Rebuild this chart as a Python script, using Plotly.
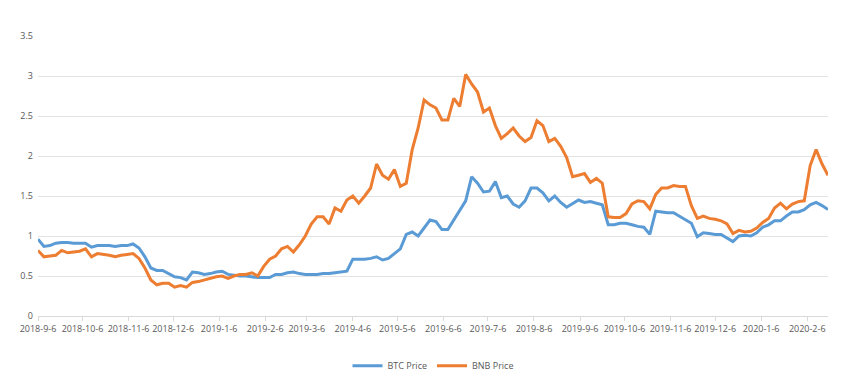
import pandas as pd
import plotly.graph_objects as go

start_date = "2018-09-06"
step = "4D"

btc_price = [
    0.96, 0.87, 0.88, 0.91, 0.92, 0.92, 0.91, 0.91, 0.91, 0.86,
    0.88, 0.88, 0.88, 0.87, 0.88, 0.88, 0.90, 0.85, 0.74, 0.60,
    0.57, 0.57, 0.53, 0.49, 0.48, 0.45, 0.55, 0.54, 0.52, 0.53,
    0.55, 0.56, 0.52, 0.51, 0.50, 0.50, 0.49, 0.48, 0.48, 0.48,
    0.52, 0.52, 0.54, 0.55, 0.53, 0.52, 0.52, 0.52, 0.53, 0.53,
    0.54, 0.55, 0.56, 0.71, 0.71, 0.71, 0.72, 0.74, 0.70, 0.72,
    0.78, 0.84, 1.02, 1.05, 1.00, 1.10, 1.20, 1.18, 1.08, 1.08,
    1.20, 1.32, 1.44, 1.74, 1.66, 1.55, 1.56, 1.68, 1.48, 1.50,
    1.40, 1.36, 1.44, 1.60, 1.60, 1.54, 1.44, 1.50, 1.42, 1.36,
    1.40, 1.45, 1.42, 1.43, 1.41, 1.39, 1.14, 1.14, 1.16, 1.16,
    1.14, 1.12, 1.11, 1.02, 1.31, 1.30, 1.29, 1.29, 1.25, 1.21,
    1.16, 0.99, 1.04, 1.03, 1.02, 1.02, 0.98, 0.93, 1.00, 1.01,
    1.00, 1.04, 1.11, 1.14, 1.19, 1.19, 1.25, 1.30, 1.30, 1.33,
    1.39, 1.42, 1.38, 1.33,
]

bnb_price = [
    0.82, 0.74, 0.75, 0.76, 0.82, 0.79, 0.80, 0.81, 0.84, 0.74,
    0.78, 0.77, 0.76, 0.74, 0.76, 0.77, 0.78, 0.72, 0.60, 0.45,
    0.39, 0.41, 0.41, 0.36, 0.38, 0.36, 0.42, 0.43, 0.45, 0.47,
    0.49, 0.50, 0.47, 0.50, 0.52, 0.52, 0.54, 0.50, 0.62, 0.71,
    0.75, 0.84, 0.87, 0.80, 0.89, 1.00, 1.15, 1.24, 1.24, 1.15,
    1.35, 1.31, 1.45, 1.50, 1.41, 1.50, 1.60, 1.90, 1.76, 1.71,
    1.83, 1.62, 1.66, 2.08, 2.35, 2.70, 2.64, 2.60, 2.45, 2.45,
    2.72, 2.62, 3.02, 2.90, 2.80, 2.55, 2.60, 2.38, 2.22, 2.28,
    2.35, 2.25, 2.18, 2.23, 2.44, 2.38, 2.18, 2.22, 2.12, 1.98,
    1.74, 1.76, 1.78, 1.67, 1.72, 1.66, 1.24, 1.23, 1.23, 1.28,
    1.40, 1.44, 1.43, 1.34, 1.52, 1.60, 1.60, 1.63, 1.62, 1.62,
    1.38, 1.22, 1.25, 1.22, 1.21, 1.19, 1.15, 1.03, 1.07, 1.05,
    1.06, 1.10, 1.17, 1.22, 1.35, 1.41, 1.34, 1.40, 1.43, 1.44,
    1.88, 2.08, 1.90, 1.76,
]

dates = pd.date_range(start_date, periods=len(btc_price), freq=step)

tick_dates = [
    "2018-09-06", "2018-10-06", "2018-11-06", "2018-12-06", "2019-01-06",
    "2019-02-06", "2019-03-06", "2019-04-06", "2019-05-06", "2019-06-06",
    "2019-07-06", "2019-08-06", "2019-09-06", "2019-10-06", "2019-11-06",
    "2019-12-06", "2020-01-06", "2020-02-06",
]
tick_labels = [
    "2018-9-6", "2018-10-6", "2018-11-6", "2018-12-6", "2019-1-6",
    "2019-2-6", "2019-3-6", "2019-4-6", "2019-5-6", "2019-6-6",
    "2019-7-6", "2019-8-6", "2019-9-6", "2019-10-6", "2019-11-6",
    "2019-12-6", "2020-1-6", "2020-2-6",
]
y_ticks = [0, 0.5, 1, 1.5, 2, 2.5, 3, 3.5]
y_labels = ["0", "0.5", "1", "1.5", "2", "2.5", "3", "3.5"]

fig = go.Figure()
fig.add_trace(go.Scatter(x=dates, y=btc_price, mode="lines", name="BTC Price",
                         line=dict(color="#5B9BD5", width=3)))
fig.add_trace(go.Scatter(x=dates, y=bnb_price, mode="lines", name="BNB Price",
                         line=dict(color="#ED7D31", width=3)))

fig.update_layout(
    width=845, height=384,
    margin=dict(l=25, r=25, t=28, b=64),
    paper_bgcolor="white", plot_bgcolor="white",
    font=dict(family="Open Sans, Liberation Sans, sans-serif", size=9, color="#595959"),
    legend=dict(orientation="h", x=0.5, xanchor="center", y=-0.178, yanchor="middle",
                font=dict(size=9, color="#595959"), itemwidth=30),
    showlegend=True,
)
fig.update_xaxes(
    range=[dates[0], dates[-1]],
    tickvals=tick_dates, ticktext=tick_labels,
    showgrid=False, showline=True, linecolor="#d9d9d9", linewidth=1,
    ticks="outside", ticklen=4, tickcolor="#d9d9d9",
    tickfont=dict(size=9, color="#595959"),
    zeroline=False,
)
fig.update_yaxes(
    range=[0, 3.5], tickvals=y_ticks, ticktext=y_labels,
    showgrid=True, gridcolor="#e3e3e3", gridwidth=1,
    zeroline=False, showline=False,
    tickfont=dict(size=9, color="#595959"),
    ticklabelstandoff=4,
)

fig.write_html("out.html")
